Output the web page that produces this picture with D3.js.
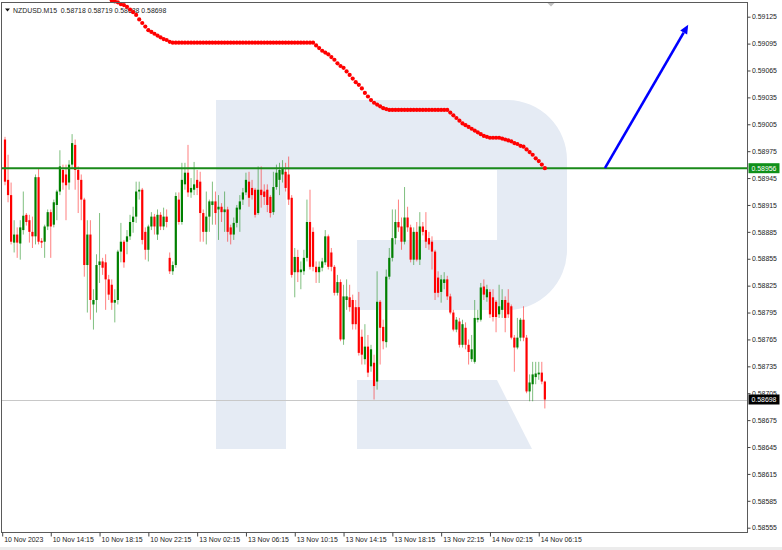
<!DOCTYPE html>
<html><head><meta charset="utf-8">
<script src="https://cdn.jsdelivr.net/npm/d3@7"></script>
<style>
html,body{margin:0;padding:0;background:#fff;}
svg{display:block;font-family:"Liberation Sans",Arial,sans-serif;}
</style></head><body>
<svg id="chart" width="782" height="550"></svg>
<script>
const symbol = "NZDUSD.M15";
const opens = [0.58988,0.58943,0.58926,0.58873,0.58882,0.58872,0.58887,0.58904,0.58898,0.58885,0.58880,0.58946,0.58875,0.58874,0.58891,0.58907,0.58893,0.58915,0.58930,0.58954,0.58949,0.58940,0.58960,0.58982,0.58954,0.58943,0.58921,0.58848,0.58882,0.58804,0.58809,0.58848,0.58852,0.58851,0.58832,0.58826,0.58806,0.58809,0.58863,0.58874,0.58874,0.58880,0.58896,0.58902,0.58930,0.58932,0.58885,0.58865,0.58891,0.58902,0.58882,0.58904,0.58891,0.58902,0.58856,0.58841,0.58848,0.58921,0.58896,0.58938,0.58951,0.58929,0.58932,0.58943,0.58941,0.58906,0.58885,0.58902,0.58915,0.58919,0.58910,0.58913,0.58907,0.58910,0.58890,0.58882,0.58895,0.58910,0.58921,0.58929,0.58941,0.58934,0.58932,0.58906,0.58932,0.58930,0.58932,0.58924,0.58907,0.58935,0.58943,0.58949,0.58952,0.58949,0.58923,0.58840,0.58857,0.58840,0.58841,0.58856,0.58896,0.58885,0.58846,0.58840,0.58845,0.58851,0.58880,0.58862,0.58846,0.58817,0.58829,0.58765,0.58809,0.58812,0.58809,0.58801,0.58801,0.58768,0.58743,0.58757,0.58735,0.58739,0.58718,0.58807,0.58779,0.58762,0.58835,0.58856,0.58878,0.58896,0.58891,0.58874,0.58901,0.58890,0.58854,0.58885,0.58854,0.58891,0.58887,0.58878,0.58874,0.58863,0.58834,0.58818,0.58828,0.58832,0.58813,0.58795,0.58776,0.58785,0.58759,0.58778,0.58759,0.58743,0.58740,0.58787,0.58787,0.58824,0.58812,0.58818,0.58812,0.58807,0.58793,0.58798,0.58809,0.58806,0.58802,0.58767,0.58756,0.58767,0.58787,0.58767,0.58707,0.58715,0.58723,0.58726,0.58728,0.58718];
const highs = [0.58991,0.58971,0.58940,0.58898,0.58890,0.58898,0.58930,0.58906,0.58904,0.58902,0.58949,0.58956,0.58878,0.58893,0.58910,0.58910,0.58921,0.58932,0.58976,0.58960,0.58960,0.58965,0.58994,0.58988,0.58958,0.58949,0.58923,0.58898,0.58898,0.58821,0.58860,0.58906,0.58856,0.58860,0.58837,0.58832,0.58821,0.58865,0.58895,0.58876,0.58887,0.58904,0.58913,0.58941,0.58941,0.58934,0.58890,0.58893,0.58907,0.58905,0.58910,0.58907,0.58912,0.58910,0.58862,0.58852,0.58929,0.58929,0.58962,0.58962,0.58982,0.58945,0.58963,0.58954,0.58952,0.58910,0.58930,0.58921,0.58941,0.58930,0.58926,0.58917,0.58930,0.58913,0.58893,0.58901,0.58915,0.58926,0.58934,0.58951,0.58952,0.58943,0.58934,0.58958,0.58958,0.58938,0.58938,0.58926,0.58952,0.58960,0.58962,0.58965,0.58962,0.58969,0.58926,0.58867,0.58865,0.58852,0.58865,0.58921,0.58932,0.58890,0.58852,0.58852,0.58856,0.58887,0.58882,0.58867,0.58848,0.58837,0.58832,0.58826,0.58832,0.58826,0.58815,0.58809,0.58818,0.58776,0.58782,0.58770,0.58759,0.58748,0.58841,0.58809,0.58787,0.58843,0.58867,0.58910,0.58910,0.58921,0.58901,0.58935,0.58913,0.58893,0.58890,0.58896,0.58907,0.58896,0.58907,0.58885,0.58880,0.58865,0.58841,0.58837,0.58840,0.58836,0.58816,0.58798,0.58790,0.58789,0.58787,0.58784,0.58765,0.58770,0.58809,0.58798,0.58828,0.58832,0.58826,0.58821,0.58821,0.58809,0.58826,0.58821,0.58813,0.58821,0.58804,0.58770,0.58789,0.58789,0.58802,0.58770,0.58726,0.58740,0.58740,0.58740,0.58740,0.58719];
const lows = [0.58937,0.58918,0.58871,0.58862,0.58856,0.58854,0.58882,0.58892,0.58873,0.58867,0.58871,0.58871,0.58867,0.58856,0.58887,0.58856,0.58890,0.58898,0.58926,0.58932,0.58898,0.58932,0.58956,0.58932,0.58906,0.58898,0.58835,0.58795,0.58787,0.58776,0.58795,0.58828,0.58837,0.58798,0.58809,0.58798,0.58784,0.58804,0.58851,0.58845,0.58860,0.58876,0.58884,0.58895,0.58921,0.58871,0.58854,0.58852,0.58887,0.58882,0.58876,0.58887,0.58887,0.58890,0.58838,0.58837,0.58845,0.58893,0.58893,0.58932,0.58924,0.58923,0.58926,0.58926,0.58874,0.58874,0.58871,0.58885,0.58893,0.58893,0.58876,0.58896,0.58885,0.58874,0.58871,0.58876,0.58890,0.58885,0.58915,0.58926,0.58913,0.58921,0.58901,0.58904,0.58912,0.58915,0.58907,0.58901,0.58904,0.58932,0.58926,0.58940,0.58930,0.58915,0.58834,0.58812,0.58829,0.58821,0.58837,0.58852,0.58843,0.58841,0.58828,0.58828,0.58841,0.58848,0.58843,0.58841,0.58814,0.58814,0.58763,0.58759,0.58798,0.58796,0.58776,0.58776,0.58747,0.58737,0.58737,0.58723,0.58729,0.58698,0.58709,0.58737,0.58754,0.58756,0.58832,0.58852,0.58871,0.58885,0.58865,0.58871,0.58885,0.58851,0.58848,0.58852,0.58848,0.58881,0.58867,0.58865,0.58843,0.58809,0.58812,0.58806,0.58821,0.58809,0.58793,0.58774,0.58773,0.58756,0.58756,0.58754,0.58737,0.58740,0.58738,0.58784,0.58785,0.58809,0.58807,0.58789,0.58785,0.58773,0.58789,0.58789,0.58773,0.58789,0.58765,0.58729,0.58754,0.58763,0.58763,0.58705,0.58696,0.58696,0.58715,0.58720,0.58715,0.58688];
const closes = [0.58941,0.58926,0.58874,0.58882,0.58873,0.58890,0.58903,0.58896,0.58885,0.58880,0.58946,0.58874,0.58873,0.58891,0.58907,0.58891,0.58918,0.58930,0.58958,0.58940,0.58937,0.58960,0.58984,0.58954,0.58943,0.58921,0.58848,0.58882,0.58809,0.58809,0.58848,0.58852,0.58845,0.58832,0.58815,0.58806,0.58809,0.58863,0.58874,0.58851,0.58880,0.58896,0.58902,0.58930,0.58932,0.58876,0.58865,0.58891,0.58902,0.58891,0.58904,0.58891,0.58902,0.58896,0.58841,0.58848,0.58925,0.58896,0.58943,0.58951,0.58929,0.58934,0.58938,0.58934,0.58906,0.58885,0.58902,0.58919,0.58919,0.58906,0.58913,0.58907,0.58910,0.58885,0.58882,0.58895,0.58912,0.58919,0.58929,0.58943,0.58923,0.58926,0.58904,0.58932,0.58926,0.58924,0.58915,0.58906,0.58935,0.58951,0.58954,0.58956,0.58934,0.58921,0.58837,0.58857,0.58840,0.58843,0.58856,0.58896,0.58846,0.58846,0.58840,0.58846,0.58852,0.58880,0.58846,0.58846,0.58817,0.58829,0.58765,0.58813,0.58813,0.58801,0.58782,0.58782,0.58750,0.58748,0.58757,0.58728,0.58754,0.58713,0.58807,0.58778,0.58763,0.58835,0.58856,0.58878,0.58896,0.58890,0.58874,0.58901,0.58890,0.58854,0.58885,0.58854,0.58891,0.58885,0.58874,0.58871,0.58863,0.58817,0.58817,0.58832,0.58832,0.58813,0.58795,0.58776,0.58787,0.58759,0.58782,0.58759,0.58751,0.58754,0.58789,0.58789,0.58823,0.58815,0.58821,0.58793,0.58790,0.58790,0.58802,0.58809,0.58789,0.58793,0.58767,0.58756,0.58767,0.58787,0.58767,0.58707,0.58717,0.58726,0.58727,0.58728,0.58718,0.58698];

// trailing indicator (red dots), first value belongs to bar redStart
const redStart = 35;
const redValues = [0.59143,0.59142,0.59141,0.59139,0.59138,0.59136,0.59133,0.59130,0.59127,0.59122,0.59118,0.59114,0.59110,0.59108,0.59106,0.59104,0.59102,0.59100,0.59099,0.59097,0.59096,
0.59096,0.59096,0.59096,0.59096,0.59096,0.59096,0.59096,0.59096,0.59096,0.59096,0.59096,0.59096,0.59096,0.59096,0.59096,0.59096,0.59096,0.59096,0.59096,0.59096,0.59096,0.59096,0.59096,0.59096,0.59096,0.59096,0.59096,0.59096,0.59096,0.59096,0.59096,0.59096,0.59096,0.59096,0.59096,0.59096,0.59096,0.59096,0.59096,0.59096,0.59096,0.59096,0.59096,0.59096,0.59096,0.59096,
0.59093,0.59090,0.59087,0.59085,0.59083,0.59080,0.59077,0.59073,0.59070,0.59068,0.59064,0.59060,0.59056,0.59052,0.59049,0.59045,0.59040,0.59036,0.59032,0.59029,0.59027,0.59025,0.59023,0.59022,0.59021,
0.59021,0.59021,0.59021,0.59021,0.59021,0.59021,0.59021,0.59021,0.59021,0.59021,0.59021,0.59021,0.59021,0.59021,0.59021,0.59021,0.59021,0.59021,0.59021,
0.59018,0.59015,0.59012,0.59009,0.59006,0.59004,0.59002,0.59000,0.58998,0.58996,0.58994,0.58992,0.58991,0.58990,0.58990,0.58990,0.58990,0.58989,0.58988,0.58987,0.58986,0.58984,0.58983,0.58981,0.58980,0.58977,0.58974,0.58971,0.58967,0.58964,0.58960,0.58956];

const levelPrice = 0.58956;
const bidPrice = 0.58698;
const arrowFrom = {bar: 196.7, price: 0.58956};
const arrowTo = {bar: 224, price: 0.59116};

const priceTicks = [0.59125,0.59095,0.59065,0.59035,0.59005,0.58975,0.58945,0.58915,0.58885,0.58855,0.58825,0.58795,0.58765,0.58735,0.58705,0.58675,0.58645,0.58615,0.58585,0.58555];
const timeTickBars = [0,15,31,47,63,79,95,111,127,143,159,175];
const timeLabels = ["10 Nov 2023","10 Nov 14:15","10 Nov 18:15","10 Nov 22:15","13 Nov 02:15","13 Nov 06:15","13 Nov 10:15","13 Nov 14:15","13 Nov 18:15","13 Nov 22:15","14 Nov 02:15","14 Nov 06:15"];

const plot = {left:1.5, top:2.5, right:747.5, bottom:532.5};
const svg = d3.select("#chart");
const x = d3.scaleLinear().domain([0, closes.length-1]).range([5, 5 + 3.05*(closes.length-1)]);
const y = d3.scaleLinear().domain([0.58555, 0.59125]).range([527.7, 16.7]);
const fmt = d3.format(".5f");
const GREEN = "#008000", RED = "#ff0000", FONT = 6.9;

svg.append("rect").attr("width",782).attr("height",550).attr("fill","#fff");
svg.append("rect").attr("x",0).attr("y",547).attr("width",782).attr("height",3).attr("fill","#ececec");

// watermark logo
const logo = svg.append("g").attr("fill","#e5ebf4");
logo.append("path").attr("d","M216,100H286V449H216Z");
logo.append("path").attr("d","M286,100H507A60,60 0 0 1 567,160V250A60,60 0 0 1 507,310H357V240H497V170H286Z");
logo.append("path").attr("d","M357,380H497L532,449H357Z");

svg.append("defs").append("clipPath").attr("id","clip").append("rect")
  .attr("x",plot.left).attr("y",plot.top).attr("width",plot.right-plot.left).attr("height",plot.bottom-plot.top);

// bid line
svg.append("line").attr("x1",plot.left).attr("x2",plot.right)
  .attr("y1",Math.round(y(bidPrice))+0.5).attr("y2",Math.round(y(bidPrice))+0.5)
  .attr("stroke","#c8c8c8").attr("stroke-width",1);

// candles
const bars = closes.map((c,i)=>({i, o:opens[i], h:highs[i], l:lows[i], c}));
const cg = svg.append("g").attr("clip-path","url(#clip)");
cg.selectAll("line.w").data(bars).join("line").attr("class","w")
  .attr("x1",d=>x(d.i)).attr("x2",d=>x(d.i))
  .attr("y1",d=>y(d.h)).attr("y2",d=>y(d.l))
  .attr("stroke",d=>d.c>=d.o?GREEN:RED).attr("stroke-opacity",0.5).attr("stroke-width",1);
cg.selectAll("rect.b").data(bars).join("rect").attr("class","b")
  .attr("x",d=>x(d.i)-1.1).attr("width",2.2)
  .attr("y",d=>y(Math.max(d.o,d.c)))
  .attr("height",d=>Math.max(1,Math.abs(y(d.o)-y(d.c))))
  .attr("fill",d=>d.c>=d.o?GREEN:RED);

// level line
svg.append("line").attr("x1",plot.left).attr("x2",plot.right)
  .attr("y1",y(levelPrice)).attr("y2",y(levelPrice))
  .attr("stroke","#1a8a1a").attr("stroke-width",2);

// header
const last = bars[bars.length-1];
svg.append("path").attr("d","M5,8.5L10,8.5L7.5,11.5Z").attr("fill","#111");
svg.append("text").attr("x",13).attr("y",12.5).attr("font-size",FONT).attr("fill","#222")
  .attr("xml:space","preserve")
  .text(symbol + "  " + [last.o,last.h,last.l,last.c].map(fmt).join(" "));

// red indicator dots
svg.append("g").selectAll("circle").data(redValues).join("circle")
  .attr("cx",(d,k)=>x(redStart+k)).attr("cy",d=>y(d)).attr("r",2.1).attr("fill",RED);

// arrow
const ax1 = x(arrowFrom.bar), ay1 = y(arrowFrom.price), ax2 = x(arrowTo.bar), ay2 = y(arrowTo.price);
const ang = Math.atan2(ay2-ay1, ax2-ax1), hl = 9, hw = 4;
const bx = ax2 - hl*Math.cos(ang), by = ay2 - hl*Math.sin(ang);
svg.append("line").attr("x1",ax1).attr("y1",ay1).attr("x2",bx).attr("y2",by)
  .attr("stroke","#0000ff").attr("stroke-width",2.6);
svg.append("path").attr("fill","#0000ff")
  .attr("d",`M${ax2},${ay2}L${bx + hw*Math.sin(ang)},${by - hw*Math.cos(ang)}L${bx - hw*Math.sin(ang)},${by + hw*Math.cos(ang)}Z`);

// shift marker
svg.append("path").attr("d","M547,2.5L555,2.5L551,6.5Z").attr("fill","#c0c0c0");

// frame
svg.append("rect").attr("x",plot.left).attr("y",plot.top).attr("width",plot.right-plot.left).attr("height",plot.bottom-plot.top)
  .attr("fill","none").attr("stroke","#5a5a5a").attr("stroke-width",1);

// price axis
const yAxis = d3.axisRight(y).tickValues(priceTicks).tickFormat(fmt).tickSize(3).tickPadding(1.5);
const ya = svg.append("g").attr("transform",`translate(${plot.right},0)`).call(yAxis);
ya.select(".domain").remove();
ya.selectAll("line").attr("stroke","#444");
ya.selectAll("text").attr("font-size",FONT).attr("font-family","Liberation Sans, Arial, sans-serif").attr("fill","#222");

// time axis
const xAxis = d3.axisBottom(x).tickValues(timeTickBars).tickFormat((d,i)=>timeLabels[i]).tickSize(4).tickPadding(1);
const xa = svg.append("g").attr("transform",`translate(0,${plot.bottom})`).call(xAxis);
xa.select(".domain").remove();
xa.selectAll(".tick").filter((d,i)=>i===0).attr("transform",`translate(${plot.left+1.2},0)`);
xa.selectAll("line").attr("stroke","#444");
xa.selectAll("text").attr("text-anchor","start").attr("dx",1.5).attr("font-size",FONT)
  .attr("font-family","Liberation Sans, Arial, sans-serif").attr("fill","#222");

// price label boxes
function priceBox(p, bg){
  const yy = y(p);
  svg.append("rect").attr("x",plot.right+1).attr("y",yy-5).attr("width",31).attr("height",10).attr("fill",bg);
  svg.append("text").attr("x",plot.right+4).attr("y",yy).attr("dy","0.35em").attr("font-size",FONT)
    .attr("fill","#fff").text(fmt(p));
}
priceBox(levelPrice, "#10901a");
priceBox(bidPrice, "#000");
</script>
</body></html>
